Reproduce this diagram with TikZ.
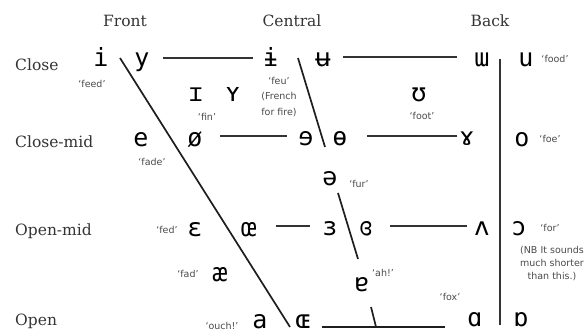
\documentclass[tikz,border=0pt]{standalone}
\usepackage{fontspec}
\setmainfont{DejaVu Serif}
\newfontfamily\ipafont{DejaVu Sans Mono}
\newfontfamily\glossfont{DejaVu Sans}
\definecolor{ink}{HTML}{1E1E1E}
\definecolor{lab}{HTML}{333333}
\definecolor{gloss}{HTML}{4A4A4A}
\definecolor{barline}{HTML}{333333}
\begin{document}
\begin{tikzpicture}[x=1pt,y=-1pt,
  hdr/.style={font=\fontsize{15.5}{18}\selectfont, text=lab, inner sep=0pt, anchor=base},
  rowlab/.style={font=\fontsize{15.5}{18}\selectfont, text=lab, inner sep=0pt, anchor=base west},
  ipa/.style={font=\ipafont\fontsize{25}{28}\selectfont, text=black, inner sep=0pt, anchor=base},
  gl/.style={font=\glossfont\fontsize{9.5}{11}\selectfont, text=gloss, inner sep=0pt, align=center},
  ln/.style={line width=2.4pt, draw=barline},
  diag/.style={line width=1.7pt, draw=ink}]
\useasboundingbox (0,0) rectangle (587,336);
% headers
\node[hdr] (front) at (125,27) {Front};
\node[hdr] (central) at (292,27) {Central};
\node[hdr] (back) at (490,27) {Back};
% row labels
\node[rowlab] (rclose) at (15,71) {Close};
\node[rowlab] (rclosemid) at (15,148) {Close-mid};
\node[rowlab] (ropenmid) at (15,236) {Open-mid};
\node[rowlab] (ropen) at (15,326) {Open};
% close row
\node[ipa] (i) at (101,67) {i};
\node[gl] (gi) at (92,84) {‘feed’};
\node[ipa] (y) at (142,67) {y};
\node[ipa] (ibar) at (271,67) {ɨ};
\node[gl, font=\glossfont\fontsize{9.5}{15.5}\selectfont] (gibar) at (279,97) {‘feu’\\(French\\for fire)};
\node[ipa] (ubar) at (323,67) {ʉ};
\node[ipa] (uu) at (482,67) {ɯ};
\node[ipa] (u) at (526,67) {u};
\node[gl] (gu) at (555,59) {‘food’};
% near-close
\node[ipa] (ish) at (196,102) {ɪ};
\node[ipa] (ysh) at (233,102) {ʏ};
\node[gl] (gish) at (207,117) {‘fin’};
\node[ipa] (ush) at (419,102) {ʊ};
\node[gl] (gush) at (422,116) {‘foot’};
% close-mid
\node[ipa] (e) at (141,147) {e};
\node[gl] (ge) at (152,162) {‘fade’};
\node[ipa] (oslash) at (195,147) {ø};
\node[ipa] (erev) at (306,146) {ɘ};
\node[ipa] (obar) at (340,146) {ɵ};
\node[ipa] (ramshorn) at (467,146) {ɤ};
\node[ipa] (o) at (522,147) {o};
\node[gl] (go) at (550,139) {‘foe’};
% mid
\node[ipa] (schwa) at (330,186) {ə};
\node[gl] (gschwa) at (359,184) {‘fur’};
% open-mid
\node[gl] (geps) at (167,230) {‘fed’};
\node[ipa] (eps) at (195,237) {ɛ};
\node[ipa] (oe) at (249,237) {œ};
\node[ipa] (revebar) at (330,236) {ɜ};
\node[ipa] (closedrev) at (366,236) {ɞ};
\node[ipa] (wedge) at (482,236) {ʌ};
\node[ipa] (openo) at (519,236) {ɔ};
\node[gl] (gopeno) at (550,228) {‘for’};
\node[gl, font=\glossfont\fontsize{9.5}{13}\selectfont] (nb) at (552,264) {(NB It sounds\\much shorter\\than this.)};
% near-open
\node[gl] (gae) at (188,274) {‘fad’};
\node[ipa] (ae) at (220,282) {æ};
\node[ipa] (turna) at (362,292) {ɐ};
\node[gl] (gturna) at (383,273) {‘ah!’};
\node[gl] (gfox) at (450,297) {‘fox’};
% open
\node[gl] (ga) at (222,326) {‘ouch!’};
\node[ipa] (a) at (260,329) {a};
\node[ipa] (OE) at (303,329) {ɶ};
\node[ipa] (scripta) at (475,327) {ɑ};
\node[ipa] (turnscripta) at (521,327) {ɒ};
% connector end points
\coordinate (fd1) at (120,58);
\coordinate (fd2) at (290,327);
\coordinate (cd1) at (298,58);
\coordinate (cd2) at (325,147);
\coordinate (cl1) at (338,193);
\coordinate (cl2) at (358,259);
\coordinate (bk1) at (500,59);
\coordinate (bk2) at (500,325);
\coordinate (op1) at (322,327);
\coordinate (op2) at (445,327);
\coordinate (tk1) at (371,307);
\coordinate (tk2) at (376,327);
\coordinate (h1a) at (163,58);  \coordinate (h1b) at (253,58);
\coordinate (h2a) at (343,57);  \coordinate (h2b) at (457,57);
\coordinate (h3a) at (220,136); \coordinate (h3b) at (287,136);
\coordinate (h4a) at (367,136); \coordinate (h4b) at (457,136);
\coordinate (h5a) at (276,226); \coordinate (h5b) at (310,226);
\coordinate (h6a) at (390,226); \coordinate (h6b) at (467,226);
% horizontal connectors
\draw[ln] (h1a) -- (h1b);
\draw[ln] (h2a) -- (h2b);
\draw[ln] (h3a) -- (h3b);
\draw[ln] (h4a) -- (h4b);
\draw[ln] (h5a) -- (h5b);
\draw[ln] (h6a) -- (h6b);
% diagonals, vertical and open line
\draw[diag] (fd1) -- (fd2);
\draw[diag] (cd1) -- (cd2);
\draw[diag] (cl1) -- (cl2);
\draw[ln] (bk1) -- (bk2);
\draw[diag] (op1) -- (op2);
\draw[diag] (tk1) -- (tk2);
\end{tikzpicture}
\end{document}
